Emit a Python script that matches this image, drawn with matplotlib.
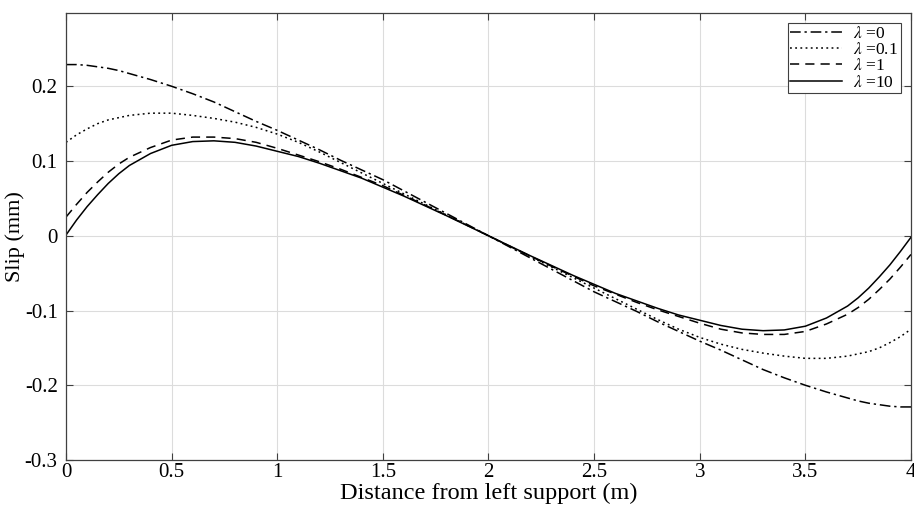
import matplotlib
matplotlib.use("Agg")
import matplotlib.pyplot as plt

# distance along the beam (m); denser readings near the supports where curves bend
x_pos = [0, 0.05, 0.1, 0.15, 0.2, 0.25, 0.3, 0.4, 0.5, 0.6, 0.7, 0.8, 0.9,
         1.0, 1.1, 1.2, 1.3, 1.4, 1.5, 1.6, 1.7, 1.8, 1.9, 2.0,
         2.1, 2.2, 2.3, 2.4, 2.5, 2.6, 2.7, 2.8, 2.9, 3.0,
         3.1, 3.2, 3.3, 3.4, 3.5, 3.6, 3.7, 3.75, 3.8, 3.85, 3.9, 3.95, 4.0]

# slip (mm) for each connection stiffness
slip_lam0 = [0.229, 0.229, 0.228, 0.226, 0.224, 0.221, 0.217, 0.209, 0.200, 0.190, 0.179, 0.166, 0.153,
             0.141, 0.128, 0.115, 0.101, 0.088, 0.075, 0.060, 0.045, 0.030, 0.015, 0.000,
             -0.015, -0.030, -0.045, -0.060, -0.075, -0.088, -0.101, -0.115, -0.128, -0.141,
             -0.153, -0.166, -0.179, -0.190, -0.200, -0.209, -0.217, -0.221, -0.224, -0.226, -0.228, -0.229, -0.229]
slip_lam01 = [0.125, 0.135, 0.143, 0.150, 0.155, 0.158, 0.161, 0.164, 0.164, 0.161, 0.157, 0.152, 0.145,
              0.136, 0.125, 0.112, 0.098, 0.084, 0.070, 0.056, 0.042, 0.028, 0.014, 0.000,
              -0.014, -0.028, -0.042, -0.056, -0.070, -0.084, -0.098, -0.112, -0.125, -0.136,
              -0.145, -0.152, -0.157, -0.161, -0.164, -0.164, -0.161, -0.158, -0.155, -0.150, -0.143, -0.135, -0.125]
slip_lam1 = [0.025, 0.042, 0.058, 0.072, 0.085, 0.096, 0.105, 0.118, 0.128, 0.132, 0.132, 0.130, 0.125,
             0.117, 0.108, 0.099, 0.089, 0.078, 0.067, 0.054, 0.041, 0.0275, 0.014, 0.000,
             -0.014, -0.0275, -0.041, -0.054, -0.067, -0.078, -0.089, -0.099, -0.108, -0.117,
             -0.125, -0.130, -0.132, -0.132, -0.128, -0.118, -0.105, -0.096, -0.085, -0.072, -0.058, -0.042, -0.025]
slip_lam10 = [0.001, 0.021, 0.039, 0.055, 0.070, 0.083, 0.094, 0.110, 0.121, 0.126, 0.127, 0.125, 0.120,
              0.113, 0.106, 0.097, 0.087, 0.077, 0.065, 0.053, 0.040, 0.027, 0.0135, 0.000,
              -0.0135, -0.027, -0.040, -0.053, -0.065, -0.077, -0.087, -0.097, -0.106, -0.113,
              -0.120, -0.125, -0.127, -0.126, -0.121, -0.110, -0.094, -0.083, -0.070, -0.055, -0.039, -0.021, -0.002]

labels = [r"$\lambda$ =0", r"$\lambda$ =0.1", r"$\lambda$ =1", r"$\lambda$ =10"]

x_ticks = [0, 0.5, 1, 1.5, 2, 2.5, 3, 3.5, 4]
x_ticklabels = ["0", "0.5", "1", "1.5", "2", "2.5", "3", "3.5", "4"]
y_ticks = [-0.3, -0.2, -0.1, 0, 0.1, 0.2]
y_ticklabels = ["-0.3", "-0.2", "-0.1", "0", "0.1", "0.2"]

plt.rcParams["font.family"] = ["Liberation Serif", "DejaVu Serif"]
plt.rcParams["mathtext.fontset"] = "stix"
plt.rcParams["axes.unicode_minus"] = False

fig = plt.figure(figsize=(9.14, 5.16), dpi=100)
ax = fig.add_axes([0.0722, 0.1085, 0.9245, 0.8663])

ax.plot(x_pos, slip_lam0, color="black", lw=1.1, dashes=(7, 2.5, 1.5, 2.5), label=labels[0])
ax.plot(x_pos, slip_lam01, color="black", lw=1.1, dashes=(1.2, 2.2), label=labels[1])
ax.plot(x_pos, slip_lam1, color="black", lw=1.1, dashes=(6, 4), label=labels[2])
ax.plot(x_pos, slip_lam10, color="black", lw=1.1, label=labels[3])

ax.set_xlim(0, 4)
ax.set_ylim(-0.3, 0.298)
ax.set_xticks(x_ticks)
ax.set_xticklabels(x_ticklabels)
ax.set_yticks(y_ticks)
ax.set_yticklabels(y_ticklabels)

ax.grid(True, color="#dcdcdc", lw=0.8)
ax.set_axisbelow(True)
ax.tick_params(direction="in", length=5, width=0.8, color="#404040",
               top=True, right=True, labelsize=15)
ax.tick_params(axis="x", pad=2)
ax.tick_params(axis="y", pad=6)
for s in ax.spines.values():
    s.set_color("#404040")
    s.set_linewidth(0.9)

ax.set_xlabel("Distance from left support (m)", fontsize=17.5, labelpad=1)
ax.set_ylabel("Slip (mm)", fontsize=16, labelpad=0)

leg = ax.legend(loc="upper right", fontsize=12.5, fancybox=False, framealpha=1,
                edgecolor="#404040", handlelength=3.0, borderpad=0.15,
                labelspacing=0.0, handletextpad=0.6, borderaxespad=0.6)
leg.get_frame().set_linewidth(0.8)

fig.savefig("out.png", dpi=100)
